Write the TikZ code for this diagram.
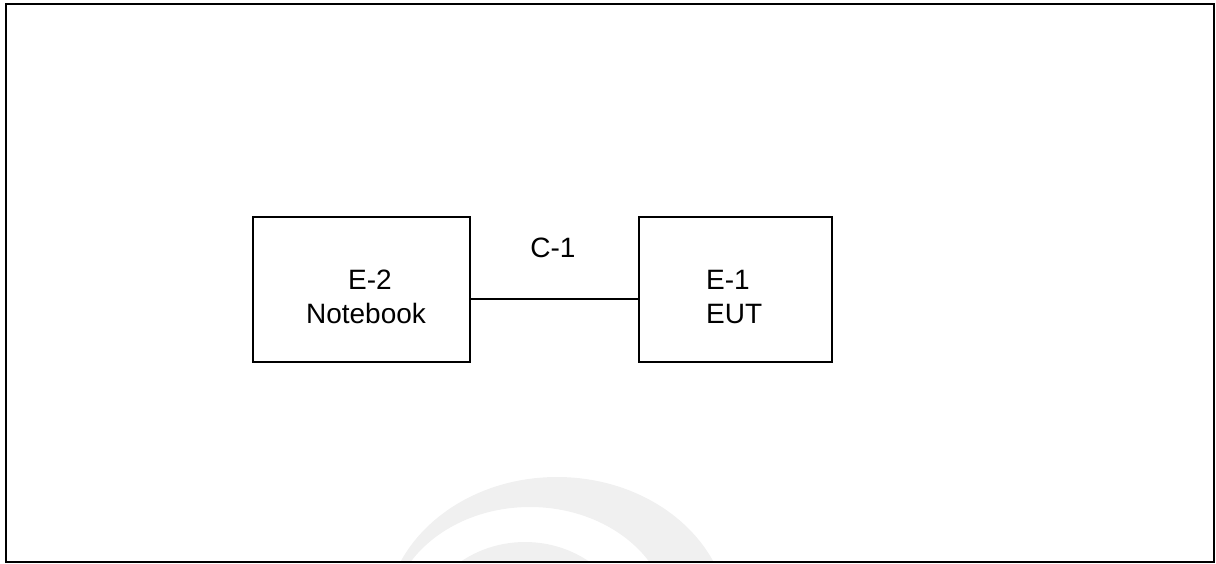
\documentclass[tikz,border=0pt]{standalone}
\usepackage{fontspec}
\setmainfont{Liberation Sans}
\begin{document}
\begin{tikzpicture}[x=1pt,y=-1pt,
  boxst/.style={draw=black,line width=1.3pt,minimum width=217pt,minimum height=145pt,inner sep=0pt},
  lbl/.style={font=\fontsize{28}{34}\selectfont,inner sep=0pt,anchor=base},
  wm/.style={fill=black!6,draw=none}]
\useasboundingbox (0,0) rectangle (1216,563);
% faint watermark
\begin{scope}
\clip (6,4) rectangle (1214,562);
\fill[wm,even odd rule] (557,622) ellipse [x radius=172,y radius=145] (530,622) ellipse [x radius=140,y radius=115];
\fill[wm] (525,642) ellipse [x radius=108,y radius=100];
\end{scope}
% frame
\draw[line width=2.4pt] (6,4) rectangle (1214,562);
% boxes
\node[boxst] (e2) at (361.5,289.5) {};
\node[boxst, minimum width=193pt] (e1) at (735.5,289.5) {};
\node[lbl] (t2a) at (370,289) {E-2};
\node[lbl] (t2b) at (366,323) {Notebook};
\node[lbl,anchor=base west] (t1a) at (706,289) {E-1};
\node[lbl,anchor=base west] (t1b) at (706,323) {EUT};
\coordinate (lk) at (0,299);
\draw[line width=1.3pt] (e2.east |- lk) -- (e1.west |- lk);
\node[lbl] (c1) at (553,257) {C-1};
\end{tikzpicture}
\end{document}
